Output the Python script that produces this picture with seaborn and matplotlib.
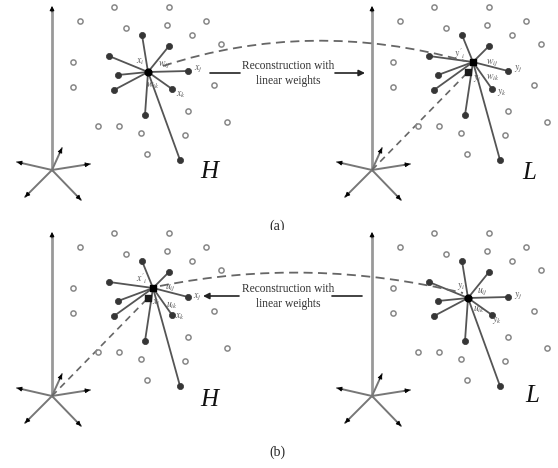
import numpy as np
import pandas as pd
import seaborn as sns
import matplotlib.pyplot as plt
from matplotlib.path import Path
from matplotlib.patches import PathPatch, Rectangle

# Point cloud of one panel (pixel coords of the top-left panel)
open_x = [114, 169, 80, 126, 167, 206, 192, 221, 73, 73, 214, 188, 227, 98, 119, 141, 185, 147]
open_y = [7, 7, 21, 28, 25, 21, 35, 44, 62, 87, 85, 111, 122, 126, 126, 133, 135, 154]
nbr_x = [142, 169, 109, 118, 114, 188, 172, 145, 180]
nbr_y = [35, 46, 56, 75, 90, 71, 89, 115, 160]
center = (148, 72)
recon = (153, 62)

# Coordinate frame drawn in each panel
axis_origin = (52, 170)
axis_top = (52, 6)
tip_x = [17, 25, 62, 90, 81]
tip_y = [162, 197, 148, 164, 200]

# Panel offsets: (a)-H, (a)-L, (b)-H, (b)-L
panel_dx = [0, 320, 0, 320]
panel_dy = [0, 0, 226, 226]
panel_big = ["H", "L", "H", "L"]
big_x = [209, 529, 209, 532]
big_y = [172, 173, 400, 396]

labels = [
    [("$x_i$", 140, 62), ("$w_{ij}$", 164, 65), ("$x_j$", 198, 69),
     ("$w_{ik}$", 153, 86), ("$x_k$", 181, 95)],
    [("$y'_i$", 460, 54), ("$w_{ij}$", 492, 63), ("$y_j$", 518, 69),
     ("$y_i$", 477, 78), ("$w_{ik}$", 493, 78), ("$y_k$", 502, 92)],
    [("$x'_i$", 142, 279), ("$u_{ij}$", 170, 288), ("$x_j$", 197, 297),
     ("$x_i$", 156, 303), ("$u_{ik}$", 172, 305), ("$x_k$", 180, 317)],
    [("$y_i$", 461, 286), ("$u_{ij}$", 482, 292), ("$y_j$", 518, 296),
     ("$u_{ik}$", 479, 309), ("$y_k$", 497, 320)],
]

# Curved "reconstruction" path control points
curve_a = [(163, 66), (310, 18), (465, 61)]
curve_b = [(160, 286), (310, 256), (463, 293)]

caption_lines = ["Reconstruction with", "linear weights"]
caption_x = 288
caption_y = [[66, 81], [289, 304]]
arrow_y = [73, 296]

sns.set_style("white")
plt.rcParams["font.family"] = ["Liberation Serif", "DejaVu Serif"]
plt.rcParams["mathtext.fontset"] = "stix"

fig = plt.figure(figsize=(5.58, 4.68), dpi=100)
ax = fig.add_axes([0, 0, 1, 1])
ax.set_xlim(0, 558)
ax.set_ylim(468, 0)
ax.axis("off")

line_col = "#555555"
dash_col = "#666666"


def draw_axes(dx, dy):
    ox, oy = axis_origin[0] + dx, axis_origin[1] + dy
    tx, ty = axis_top[0] + dx, axis_top[1] + dy
    ax.plot([ox, tx], [oy, ty + 3], color="#999999", lw=2.0, zorder=2)
    ax.annotate("", xy=(tx, ty), xytext=(tx, ty + 6),
                arrowprops=dict(arrowstyle="-|>", color="black", lw=0.6,
                                mutation_scale=7, shrinkA=0, shrinkB=0), zorder=6)
    for x, y in zip(tip_x, tip_y):
        x, y = x + dx, y + dy
        ax.plot([ox, x], [oy, y], color="#777777", lw=1.4, zorder=2)
        vx, vy = x - ox, y - oy
        n = np.hypot(vx, vy)
        ax.annotate("", xy=(x, y), xytext=(x - 6 * vx / n, y - 6 * vy / n),
                    arrowprops=dict(arrowstyle="-|>", color="black", lw=0.6,
                                    mutation_scale=7, shrinkA=0, shrinkB=0), zorder=6)


def draw_cloud(i, dx, dy):
    reconstructed = i in (1, 2)
    hub = recon if reconstructed else center
    hx, hy = hub[0] + dx, hub[1] + dy
    for x, y in zip(nbr_x, nbr_y):
        ax.plot([hx, x + dx], [hy, y + dy], color=line_col, lw=1.3, zorder=3)
    pts = pd.DataFrame({"x": np.array(open_x) + dx, "y": np.array(open_y) + dy})
    sns.scatterplot(data=pts, x="x", y="y", ax=ax, s=14, marker="o",
                    facecolor="white", edgecolor="#888888", linewidth=1.1, zorder=4)
    nb = pd.DataFrame({"x": np.array(nbr_x) + dx, "y": np.array(nbr_y) + dy})
    sns.scatterplot(data=nb, x="x", y="y", ax=ax, s=20, color="#363636",
                    edgecolor="#363636", linewidth=0.5, zorder=5)
    if reconstructed:
        ax.scatter([center[0] + dx], [center[1] + dy], s=18, marker="s",
                   color="#1a1a1a", zorder=6)
        ax.scatter([hx], [hy], s=24, marker="s", color="black", zorder=6)
        ox, oy = axis_origin[0] + dx, axis_origin[1] + dy
        ax.plot([ox, center[0] + dx], [oy, center[1] + dy], color=dash_col,
                lw=1.2, ls=(0, (4, 3)), zorder=2)
    else:
        ax.scatter([hx], [hy], s=24, color="black", zorder=6)


for i in range(4):
    dx, dy = panel_dx[i], panel_dy[i]
    draw_axes(dx, dy)
    draw_cloud(i, dx, dy)
    for txt, x, y in labels[i]:
        ax.text(x, y, txt, fontsize=7, color="#555555", ha="center",
                va="center", zorder=7)
    ax.text(big_x[i], big_y[i], panel_big[i], fontsize=18, style="italic",
            ha="center", va="center", color="#111111", zorder=7)

for curve in (curve_a, curve_b):
    path = Path(curve, [Path.MOVETO, Path.CURVE3, Path.CURVE3])
    ax.add_patch(PathPatch(path, fill=False, edgecolor=dash_col, lw=1.3,
                           ls=(0, (5, 3)), zorder=3))

# Middle captions with arrows
for k in range(2):
    for line, y in zip(caption_lines, caption_y[k]):
        ax.text(caption_x, y, line, fontsize=8.3, color="#333333", ha="center",
                va="center", zorder=7)
    y = arrow_y[k]
    arrow_props = dict(arrowstyle="-|>", color="#222222", lw=1.2,
                       mutation_scale=9, shrinkA=0, shrinkB=0)
    if k == 0:
        ax.plot([210, 240], [y, y], color="#222222", lw=1.2, zorder=3)
        ax.annotate("", xy=(365, y), xytext=(335, y), arrowprops=arrow_props)
    else:
        ax.plot([332, 362], [y, y], color="#222222", lw=1.2, zorder=3)
        ax.annotate("", xy=(203, y), xytext=(239, y), arrowprops=arrow_props)

ax.text(277, 226, "(a)", fontsize=10, ha="center", va="center", zorder=1)
ax.add_patch(Rectangle((255, 229.5), 45, 8, facecolor="white",
                       edgecolor="none", zorder=1.5))
ax.text(277, 452, "(b)", fontsize=10, ha="center", va="center")

fig.savefig("out.png", dpi=100)
